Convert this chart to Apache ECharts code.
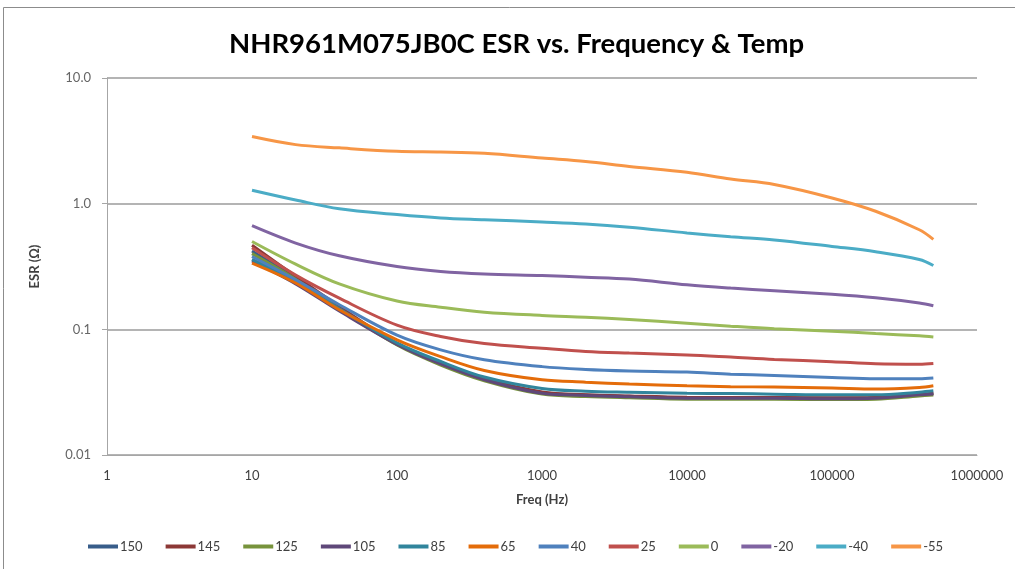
<!DOCTYPE html>
<html><head><meta charset="utf-8">
<script src="https://cdn.jsdelivr.net/npm/echarts@6/dist/echarts.min.js"></script>
<style>html,body{margin:0;padding:0;background:#fff}#c{width:1015px;height:569px}</style>
</head><body><div id="c"></div>
<script>
const freqs = [10,20,40,100,200,400,1000,2000,4000,10000,20000,40000,100000,200000,400000,500000];
const seriesNames = ['150','145','125','105','85','65','40','25','0','-20','-40','-55'];
const s150 = [0.42,0.255,0.148,0.0765,0.0535,0.040,0.0314,0.030,0.0293,0.0286,0.0285,0.0285,0.0283,0.0285,0.0300,0.0308];
const s145 = [0.466,0.265,0.152,0.077,0.054,0.0405,0.0318,0.0302,0.0295,0.0288,0.0287,0.0287,0.0285,0.0287,0.0302,0.031];
const s125 = [0.40,0.25,0.145,0.075,0.052,0.039,0.0305,0.0292,0.0285,0.0278,0.0278,0.0278,0.0276,0.0278,0.0295,0.0300];
const s105 = [0.35,0.23,0.14,0.076,0.053,0.0397,0.031,0.0298,0.0291,0.0283,0.0283,0.0283,0.028,0.0283,0.0301,0.0306];
const s85 = [0.36,0.238,0.146,0.078,0.0555,0.0417,0.0338,0.0322,0.0316,0.031,0.0308,0.0305,0.0301,0.0301,0.0316,0.0324];
const s65 = [0.337,0.234,0.143,0.0826,0.0607,0.0471,0.0397,0.038,0.0367,0.0356,0.035,0.0347,0.0341,0.0335,0.0345,0.0356];
const s40 = [0.38,0.248,0.157,0.09,0.0687,0.0573,0.0505,0.048,0.0467,0.0457,0.044,0.0429,0.0414,0.0404,0.0404,0.041];
const s25 = [0.445,0.27,0.177,0.108,0.0877,0.077,0.0707,0.0667,0.0647,0.0626,0.0601,0.0575,0.0553,0.0532,0.0528,0.0535];
const s0 = [0.50,0.33,0.23,0.168,0.15,0.137,0.129,0.125,0.12,0.112,0.106,0.101,0.0967,0.0925,0.0888,0.087];
const sm20 = [0.668,0.486,0.385,0.316,0.289,0.276,0.268,0.26,0.251,0.226,0.213,0.203,0.19,0.178,0.162,0.154];
const sm40 = [1.28,1.07,0.91,0.82,0.77,0.745,0.715,0.69,0.65,0.585,0.545,0.515,0.457,0.415,0.36,0.322];
const sm55 = [3.42,2.95,2.78,2.61,2.58,2.52,2.31,2.17,1.98,1.78,1.57,1.42,1.11,0.87,0.62,0.52];
const allValues = [s150,s145,s125,s105,s85,s65,s40,s25,s0,sm20,sm40,sm55];
const colors = ['#385D8A','#8C3836','#77933C','#5F4879','#31859C','#E46C0A','#4F81BD','#C0504D','#9BBB59','#8064A2','#4BACC6','#F79646'];
const FONT = 'Lato, "Open Sans", sans-serif';

const chart = echarts.init(document.getElementById('c'), null, {renderer:'canvas'});
chart.setOption({
  backgroundColor:'#fff',
  animation:false,
  color: colors,
  graphic:[{type:'rect', shape:{x:3.5,y:7.5,width:1020,height:600}, style:{fill:'none', stroke:'#8c8c8c', lineWidth:1}}],
  title:{text:'NHR961M075JB0C ESR vs. Frequency & Temp', left:224, top:25,
    textStyle:{fontFamily:FONT, fontWeight:'bold', fontSize:27.5, color:'#000'}},
  grid:{left:107, right:38, top:78, bottom:114},
  legend:{bottom:11, left:83, icon:'rect', itemWidth:30, itemHeight:4, itemGap:23,
    textStyle:{fontFamily:FONT, fontSize:13, color:'#404040', padding:[0,0,0,-3]},
    data: seriesNames},
  xAxis:{type:'log', logBase:10, min:1, max:1000000,
    name:'Freq (Hz)', nameLocation:'middle', nameGap:38,
    nameTextStyle:{fontFamily:FONT, fontWeight:'bold', fontSize:13, color:'#404040'},
    axisLine:{show:true, lineStyle:{color:'#a6a6a6', width:1}},
    axisTick:{show:false}, splitLine:{show:false}, minorTick:{show:false},
    axisLabel:{fontFamily:FONT, fontSize:13, color:'#404040', margin:14,
      formatter:v=>String(Math.round(v))}},
  yAxis:{type:'log', logBase:10, min:0.01, max:10,
    name:'ESR (Ω)', nameLocation:'middle', nameGap:66, nameRotate:90,
    nameTextStyle:{fontFamily:FONT, fontWeight:'bold', fontSize:13, color:'#404040'},
    axisLine:{show:true, lineStyle:{color:'#a6a6a6', width:1}},
    axisTick:{show:true, length:5, lineStyle:{color:'#a6a6a6'}},
    splitLine:{show:true, lineStyle:{color:'#b4b4b4', width:2}},
    axisLabel:{fontFamily:FONT, fontSize:13, color:'#666666', margin:16,
      formatter:v=>{const r=Math.round(v*1000)/1000; return r>=1 ? r.toFixed(1) : String(r);}}},
  series: seriesNames.map((n,i)=>({
    name:n, type:'line', smooth:0.35, showSymbol:false, symbol:'none',
    lineStyle:{width:3, color:colors[i]},
    itemStyle:{color:colors[i]},
    data: freqs.map((f,j)=>[f, allValues[i][j]])
  }))
});
</script></body></html>
